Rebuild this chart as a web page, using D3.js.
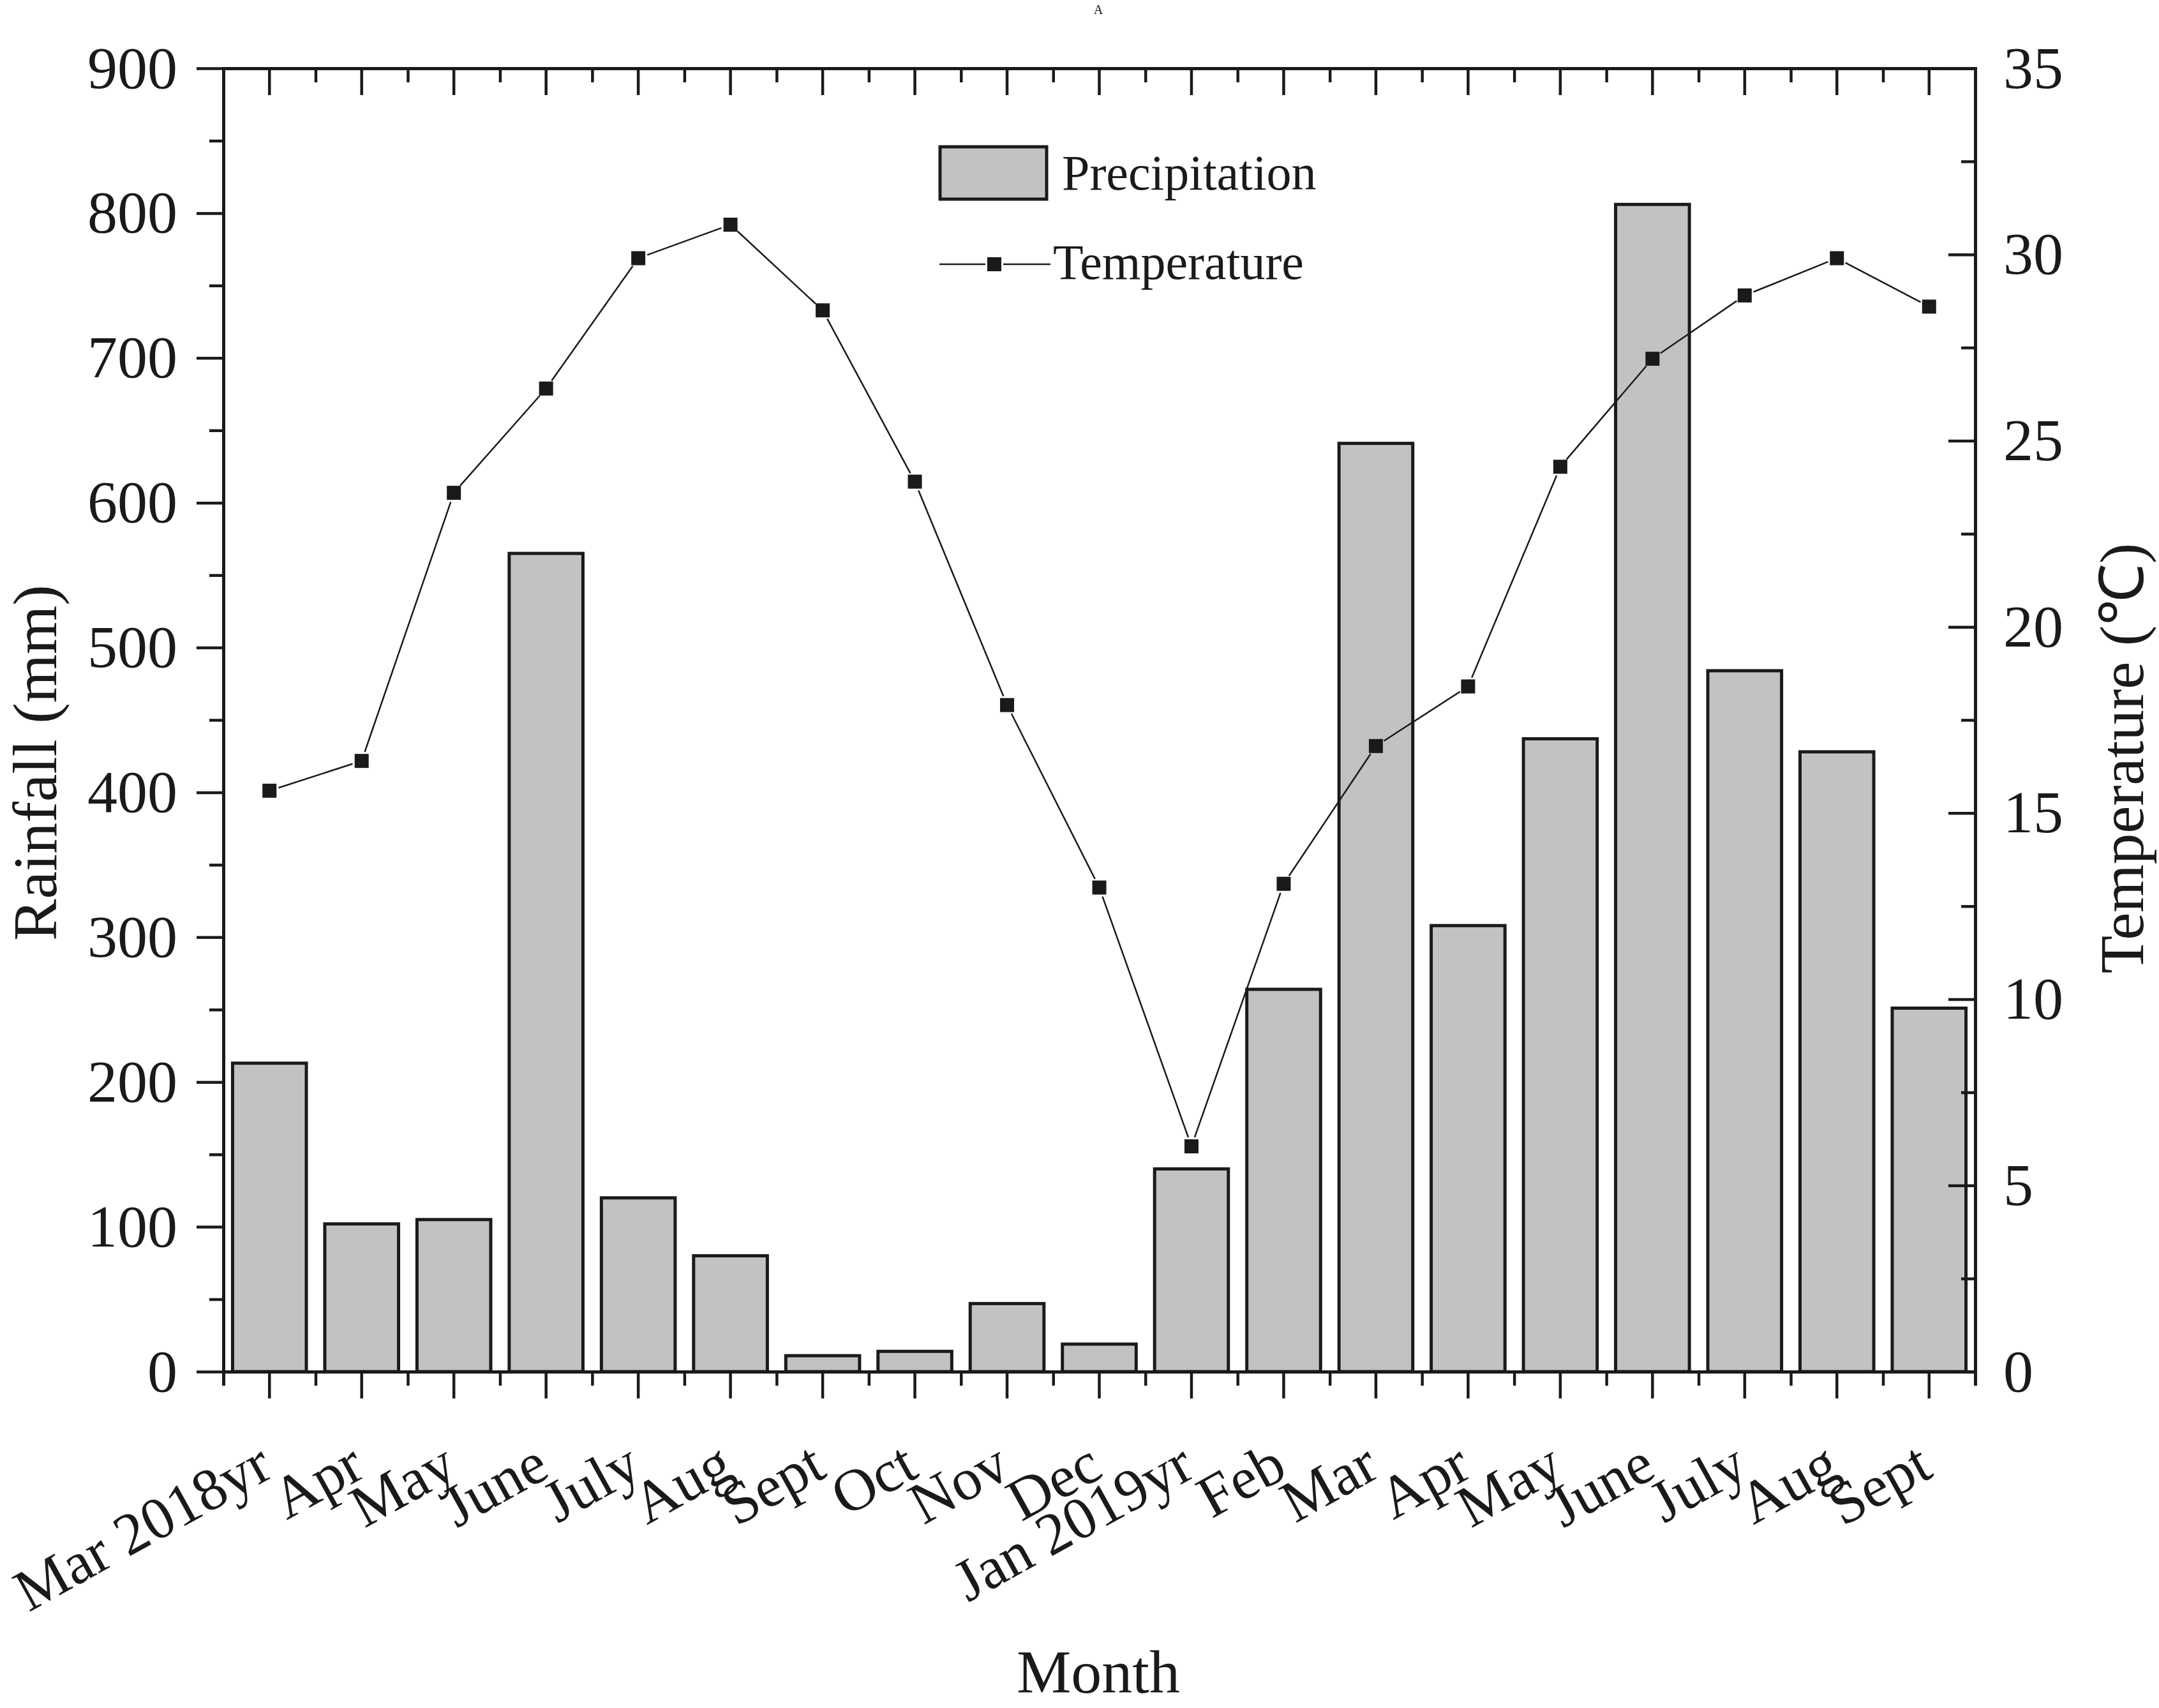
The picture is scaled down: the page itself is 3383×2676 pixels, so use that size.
<!DOCTYPE html>
<html>
<head>
<meta charset="utf-8">
<script src="https://cdn.jsdelivr.net/npm/d3@7"></script>
<style>
  body { margin: 0; background: #fff; }
  text { font-family: "Liberation Serif", "Times New Roman", serif; fill: #1a1a1a; }
</style>
</head>
<body>
<div id="chart"></div>
<script>
var months = ["Mar 2018yr", "Apr", "May", "June", "July", "Aug", "Sept", "Oct", "Nov", "Dec",
              "Jan 2019yr", "Feb", "Mar", "Apr", "May", "June", "July", "Aug", "Sept"];
var rainfall = [213, 102, 105, 565, 120, 80, 11, 14, 47, 19, 140, 264, 641, 308, 437, 806, 484, 428, 251];
var temperature = [15.6, 16.4, 23.6, 26.4, 29.9, 30.8, 28.5, 23.9, 17.9, 13.0, 6.05, 13.1, 16.8, 18.4, 24.3, 27.2, 28.9, 29.9, 28.6];
var rainTicks = [0, 100, 200, 300, 400, 500, 600, 700, 800, 900];
var tempTicks = [0, 5, 10, 15, 20, 25, 30, 35];

var W = 3383, H = 2676;
var plotLeft = 350, plotRight = 3095, plotTop = 107, plotBottom = 2149;
var ink = "#1a1a1a";

var svg = d3.select("#chart").append("svg")
    .attr("width", W)
    .attr("height", H);

var x = d3.scaleBand()
    .domain(d3.range(months.length))
    .range([plotLeft, plotRight])
    .paddingInner(0.2)
    .paddingOuter(0.1);
// category boundaries for the minor ticks
var xEdge = d3.scaleLinear().domain([0, months.length]).range([plotLeft, plotRight]);
var yRain = d3.scaleLinear().domain([0, 900]).range([plotBottom, plotTop]);
var yTemp = d3.scaleLinear().domain([0, 35]).range([plotBottom, plotTop]);

// bars
svg.append("g").selectAll("rect")
    .data(rainfall)
  .enter().append("rect")
    .attr("x", function(d, i) { return x(i); })
    .attr("y", function(d) { return yRain(d); })
    .attr("width", x.bandwidth())
    .attr("height", function(d) { return plotBottom - yRain(d); })
    .attr("fill", "#c2c2c2")
    .attr("stroke", ink)
    .attr("stroke-width", 5);

// axes
function styleAxis(g) {
  g.selectAll("path.domain").attr("stroke", ink).attr("stroke-width", 5);
  g.selectAll(".tick line").attr("stroke", ink).attr("stroke-width", 4.5);
  g.selectAll(".tick text").style("font-size", "94px").attr("fill", ink);
}
var noLabel = function() { return ""; };

svg.append("g").attr("transform", "translate(0," + plotBottom + ")")
    .call(d3.axisBottom(xEdge).tickValues(d3.range(months.length + 1)).tickSize(22).tickFormat(noLabel))
    .call(styleAxis);
var bottomAxis = svg.append("g").attr("transform", "translate(0," + plotBottom + ")")
    .call(d3.axisBottom(x).tickSize(42).tickSizeOuter(0).tickFormat(function(i) { return months[i]; }))
    .call(styleAxis);
bottomAxis.selectAll(".tick text")
    .style("font-size", "93px")
    .attr("x", 0).attr("y", 0).attr("dy", 0)
    .attr("text-anchor", "end")
    .attr("transform", "translate(9,163) rotate(-29)");

svg.append("g").attr("transform", "translate(0," + plotTop + ")")
    .call(d3.axisTop(xEdge).tickValues(d3.range(months.length + 1)).tickSize(-22).tickFormat(noLabel))
    .call(styleAxis);
svg.append("g").attr("transform", "translate(0," + plotTop + ")")
    .call(d3.axisTop(x).tickSize(-42).tickSizeOuter(0).tickFormat(noLabel))
    .call(styleAxis);

svg.append("g").attr("transform", "translate(" + plotLeft + ",0)")
    .call(d3.axisLeft(yRain).tickValues(d3.range(50, 900, 100)).tickSize(22).tickSizeOuter(0).tickFormat(noLabel))
    .call(styleAxis);
svg.append("g").attr("transform", "translate(" + plotLeft + ",0)")
    .call(d3.axisLeft(yRain).tickValues(rainTicks).tickSize(42).tickSizeOuter(0).tickPadding(30))
    .call(styleAxis);

svg.append("g").attr("transform", "translate(" + plotRight + ",0)")
    .call(d3.axisRight(yTemp).tickValues(d3.range(2.5, 35, 5)).tickSize(-22).tickSizeOuter(0).tickFormat(noLabel))
    .call(styleAxis);
svg.append("g").attr("transform", "translate(" + plotRight + ",0)")
    .call(d3.axisRight(yTemp).tickValues(tempTicks).tickSize(-42).tickSizeOuter(0).tickPadding(44))
    .call(styleAxis);

// temperature line, with a small gap before each marker
var cx = function(i) { return x(i) + x.bandwidth() / 2; };
var gap = 15;
var segs = d3.pairs(temperature.map(function(d, i) { return [cx(i), yTemp(d)]; }));
svg.append("g").selectAll("line")
    .data(segs)
  .enter().append("line")
    .each(function(s) {
      var dx = s[1][0] - s[0][0], dy = s[1][1] - s[0][1];
      var len = Math.sqrt(dx * dx + dy * dy);
      var ux = dx / len, uy = dy / len;
      d3.select(this)
        .attr("x1", s[0][0] + ux * gap).attr("y1", s[0][1] + uy * gap)
        .attr("x2", s[1][0] - ux * gap).attr("y2", s[1][1] - uy * gap);
    })
    .attr("stroke", ink)
    .attr("stroke-width", 2.5);
svg.append("g").selectAll("rect")
    .data(temperature)
  .enter().append("rect")
    .attr("x", function(d, i) { return cx(i) - 11; })
    .attr("y", function(d) { return yTemp(d) - 11; })
    .attr("width", 22)
    .attr("height", 22)
    .attr("fill", ink);

// legend
var legend = svg.append("g");
legend.append("rect")
    .attr("x", 1473).attr("y", 230).attr("width", 167).attr("height", 82)
    .attr("fill", "#c2c2c2").attr("stroke", ink).attr("stroke-width", 5);
legend.append("text")
    .attr("x", 1664).attr("y", 297)
    .style("font-size", "78px")
    .text("Precipitation");
legend.append("line")
    .attr("x1", 1472).attr("x2", 1544).attr("y1", 414).attr("y2", 414)
    .attr("stroke", ink).attr("stroke-width", 2.5);
legend.append("line")
    .attr("x1", 1572).attr("x2", 1646).attr("y1", 414).attr("y2", 414)
    .attr("stroke", ink).attr("stroke-width", 2.5);
legend.append("rect")
    .attr("x", 1547).attr("y", 403).attr("width", 22).attr("height", 22)
    .attr("fill", ink);
legend.append("text")
    .attr("x", 1650).attr("y", 437)
    .style("font-size", "78px")
    .text("Temperature");

// titles
svg.append("text")
    .attr("transform", "translate(88,1195) rotate(-90)")
    .attr("text-anchor", "middle")
    .style("font-size", "98px")
    .text("Rainfall (mm)");
svg.append("text")
    .attr("transform", "translate(3358,1188) rotate(-90)")
    .attr("text-anchor", "middle")
    .style("font-size", "97px")
    .text("Temperature (℃)");
svg.append("text")
    .attr("x", 1721).attr("y", 2652)
    .attr("text-anchor", "middle")
    .style("font-size", "96px")
    .text("Month");
svg.append("text")
    .attr("x", 1721).attr("y", 22)
    .attr("text-anchor", "middle")
    .style("font-size", "20px")
    .text("A");
</script>
</body>
</html>
